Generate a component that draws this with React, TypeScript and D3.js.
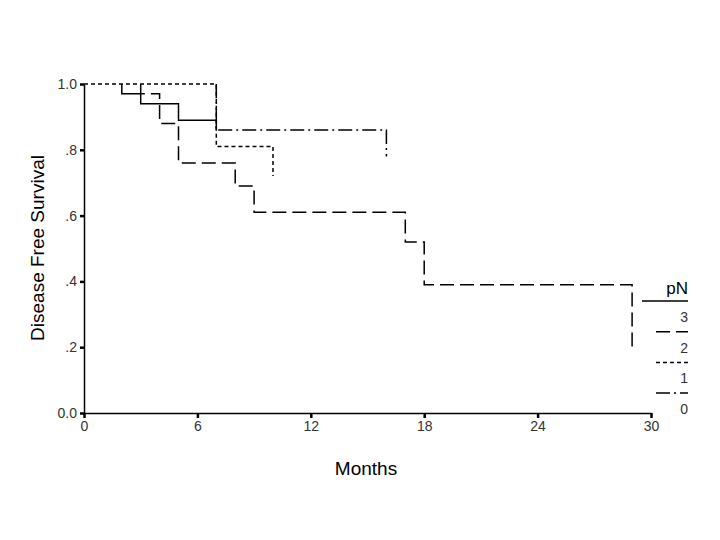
import React, { useRef, useEffect } from 'react';
import * as d3 from 'd3';

// Kaplan-Meier steps: month of each drop and survival after it
const groups = ['3', '2', '1', '0'];
const pN3Months = [0, 2, 3, 5, 7];
const pN3Surv = [1.0, 0.97, 0.94, 0.89, 0.86];
const pN2Months = [0, 3, 4, 5, 8, 9, 17, 18, 29];
const pN2Surv = [1.0, 0.97, 0.88, 0.76, 0.69, 0.61, 0.52, 0.39, 0.2];
const pN1Months = [0, 7, 10];
const pN1Surv = [1.0, 0.81, 0.72];
const pN0Months = [0, 7, 16];
const pN0Surv = [1.0, 0.86, 0.78];

const xTicks = [0, 6, 12, 18, 24, 30];
const yTicks = [0, 0.2, 0.4, 0.6, 0.8, 1.0];
const yTickLabels = ['0.0', '.2', '.4', '.6', '.8', '1.0'];

const dashes = ['none', '14 6', '4 3', '14 4 2 4'];

function App() {
    const ref = useRef<SVGSVGElement | null>(null);

    useEffect(() => {
        const width = 720;
        const height = 540;
        const series = [
            pN3Months.map((m, i) => [m, pN3Surv[i]]),
            pN2Months.map((m, i) => [m, pN2Surv[i]]),
            pN1Months.map((m, i) => [m, pN1Surv[i]]),
            pN0Months.map((m, i) => [m, pN0Surv[i]]),
        ];

        const x = d3.scaleLinear().domain([0, 30]).range([84, 651]);
        const y = d3.scaleLinear().domain([0, 1]).range([413, 84]);

        const svg = d3.select(ref.current);
        svg.selectAll('*').remove();
        svg.attr('width', width).attr('height', height);

        svg.append('rect').attr('width', width).attr('height', height).attr('fill', '#fff');

        const font = '"Liberation Sans", Arial, sans-serif';

        // axes
        const xAxis = svg.append('g').attr('transform', `translate(0,${y(0)})`)
            .call(d3.axisBottom(x).tickValues(xTicks).tickSize(5).tickPadding(3).tickSizeOuter(0));
        xAxis.select('.domain').attr('stroke-width', 1.5);
        xAxis.selectAll('.tick line').attr('stroke-width', 2.5);
        xAxis.selectAll('.tick text').attr('font-family', font).attr('font-size', 14).attr('fill', '#333');

        const yAxis = svg.append('g').attr('transform', `translate(${x(0)},0)`)
            .call(d3.axisLeft(y).tickValues(yTicks).tickSize(4).tickPadding(3).tickSizeOuter(0)
                .tickFormat((d, i) => yTickLabels[i]));
        yAxis.select('.domain').attr('stroke-width', 1.5);
        yAxis.selectAll('.tick line').attr('stroke-width', 2.5);
        yAxis.selectAll('.tick text').attr('font-family', font).attr('font-size', 14).attr('fill', '#333');

        // titles
        svg.append('text')
            .attr('x', 366).attr('y', 475)
            .attr('text-anchor', 'middle')
            .attr('font-family', font).attr('font-size', 19)
            .text('Months');

        svg.append('text')
            .attr('transform', 'translate(44,248) rotate(-90)')
            .attr('text-anchor', 'middle')
            .attr('font-family', font).attr('font-size', 19)
            .text('Disease Free Survival');

        // survival curves; the shared 1.0 run is only visible for pN 1 (drawn on top of the others)
        const line = d3.line<number[]>()
            .x((d) => x(d[0]))
            .y((d) => y(d[1]))
            .curve(d3.curveStepAfter);

        const visible = series.map((s, i) => (i === 2 ? s : [[s[1][0], s[0][1]], ...s.slice(1)]));

        svg.selectAll('.km')
            .data(visible)
            .enter()
            .append('path')
            .attr('class', 'km')
            .attr('d', (d) => line(d))
            .attr('fill', 'none')
            .attr('stroke', '#000')
            .attr('stroke-width', 1.5)
            .attr('stroke-dasharray', (d, i) => dashes[i]);

        // legend
        const legend = svg.append('g');
        legend.append('text')
            .attr('x', 688).attr('y', 294)
            .attr('text-anchor', 'end')
            .attr('font-family', font).attr('font-size', 17)
            .text('pN');

        legend.selectAll('.lg-line')
            .data(groups)
            .enter()
            .append('line')
            .attr('class', 'lg-line')
            .attr('x1', (d, i) => (i === 0 ? 642 : 656))
            .attr('x2', 688)
            .attr('y1', (d, i) => 301 + i * 30.7)
            .attr('y2', (d, i) => 301 + i * 30.7)
            .attr('stroke', '#000')
            .attr('stroke-width', 1.5)
            .attr('stroke-dasharray', (d, i) => dashes[i]);

        legend.selectAll('.lg-text')
            .data(groups)
            .enter()
            .append('text')
            .attr('class', 'lg-text')
            .attr('x', 688)
            .attr('y', (d, i) => 322 + i * 30.7)
            .attr('text-anchor', 'end')
            .attr('font-family', font).attr('font-size', 14)
            .attr('fill', '#333')
            .text((d) => d);
    }, []);

    return (
        <svg ref={ref} style={{ position: 'fixed', left: 0, top: 0 }} />
    );
}

export default App;
